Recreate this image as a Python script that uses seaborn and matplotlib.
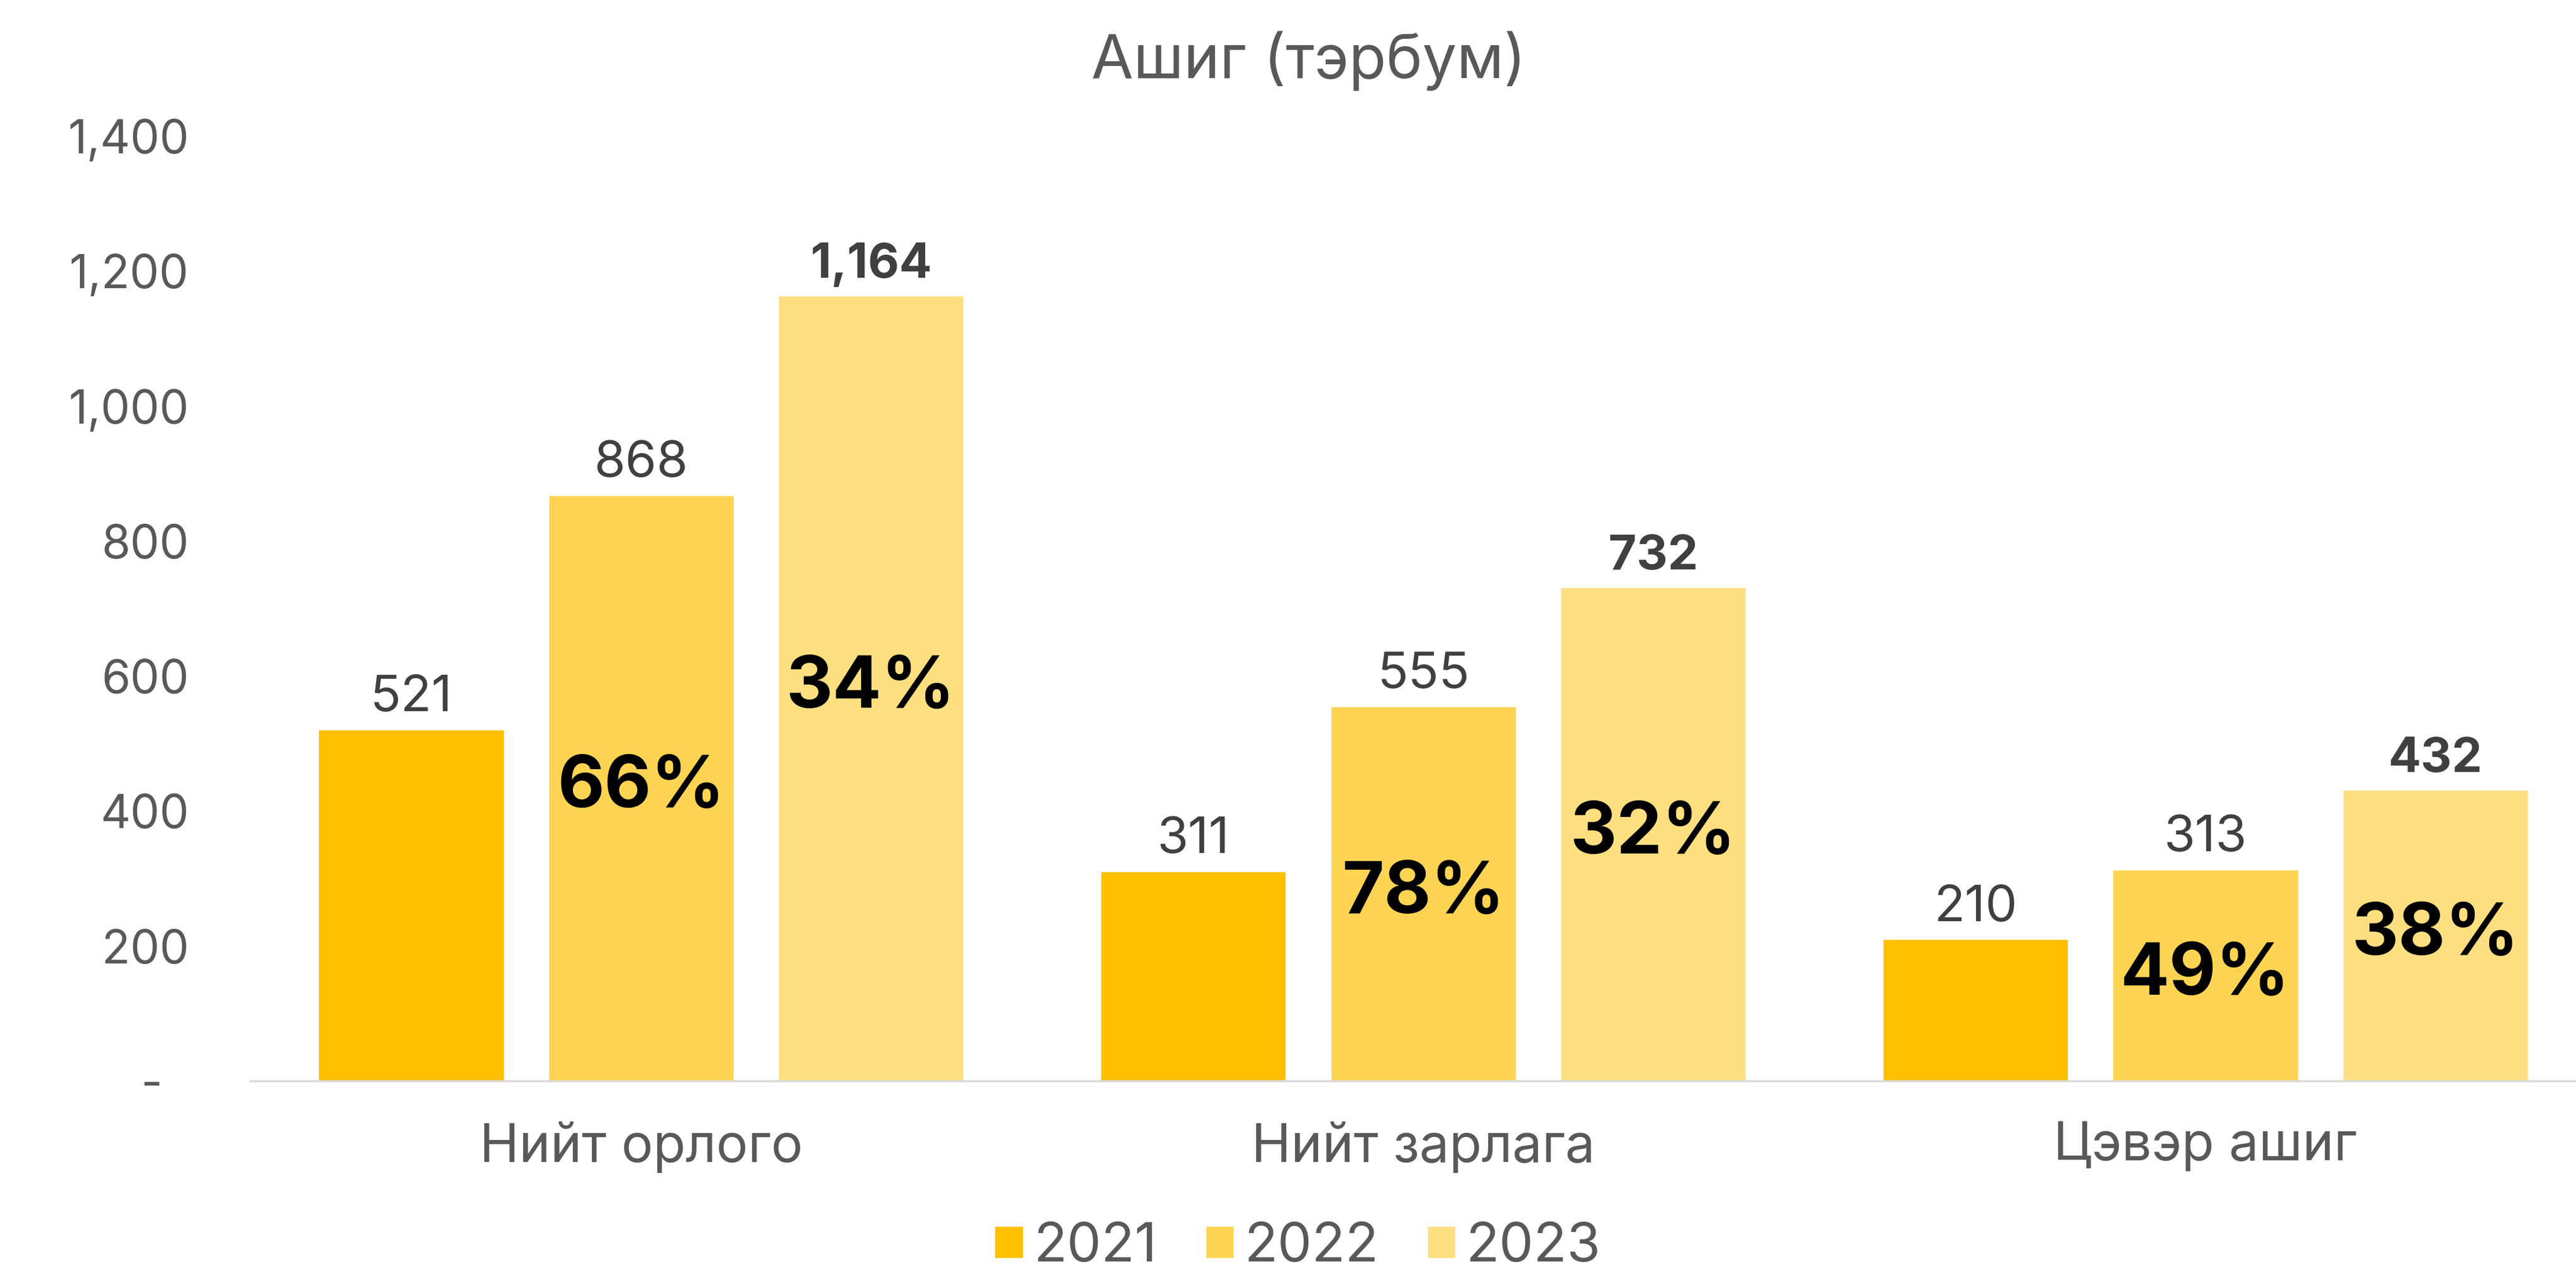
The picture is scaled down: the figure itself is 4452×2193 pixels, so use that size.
import pandas as pd
import matplotlib
matplotlib.use("Agg")
import matplotlib.pyplot as plt
from matplotlib.patches import Patch
import seaborn as sns

# Data
categories = ["Нийт орлого", "Нийт зарлага", "Цэвэр ашиг"]
years = ["2021", "2022", "2023"]
values_2021 = [521, 311, 210]
values_2022 = [868, 555, 313]
values_2023 = [1164, 732, 432]
growth_2022 = ["66%", "78%", "49%"]
growth_2023 = ["34%", "32%", "38%"]
y_ticks = [0, 200, 400, 600, 800, 1000, 1200, 1400]
y_tick_labels = ["-  ", "200", "400", "600", "800", "1,000", "1,200", "1,400"]
colors = ["#FFC000", "#FDD452", "#FEDF80"]

df = pd.DataFrame({
    "category": categories * 3,
    "year": [y for y in years for _ in categories],
    "value": values_2021 + values_2022 + values_2023,
})

sns.set_theme(style="white")
plt.rcParams["font.family"] = ["Inter", "DejaVu Sans"]

fig = plt.figure(figsize=(44.52, 21.93), dpi=100)
ax = fig.add_axes([0.097, 0.148, 0.911, 0.7446])

sns.barplot(data=df, x="category", y="value", hue="year", hue_order=years,
            palette=colors, saturation=1, width=0.882, gap=0.194,
            legend=False, ax=ax)

ax.set_ylim(0, 1400)
ax.set_xlim(-0.5, 2.5)
ax.set_yticks(y_ticks)
ax.set_yticklabels(y_tick_labels)
ax.set_xlabel("")
ax.set_ylabel("")
ax.tick_params(axis="y", length=0, pad=76, labelsize=58, labelcolor="#595959")
ax.tick_params(axis="x", length=0, pad=50, labelsize=66, labelcolor="#595959")

for side in ["top", "right", "left"]:
    ax.spines[side].set_visible(False)
ax.spines["bottom"].set_color("#D9D9D9")
ax.spines["bottom"].set_linewidth(2.5)

# value labels
c21, c22, c23 = ax.containers[:3]
ax.bar_label(c21, labels=[f"{v:,}" for v in values_2021], padding=10,
             fontsize=63, color="#404040")
ax.bar_label(c22, labels=[f"{v:,}" for v in values_2022], padding=10,
             fontsize=63, color="#404040")
ax.bar_label(c23, labels=[f"{v:,}" for v in values_2023], padding=10,
             fontsize=60, color="#404040", fontweight="bold")

# growth labels inside bars
ax.bar_label(c22, labels=growth_2022, label_type="center",
             fontsize=90, color="black", fontweight="bold")
ax.bar_label(c23, labels=growth_2023, label_type="center",
             fontsize=90, color="black", fontweight="bold")

fig.text(0.508, 0.952, "Ашиг (тэрбум)", ha="center", va="center",
         fontsize=76, color="#595959")

handles = [Patch(facecolor=c, edgecolor="none") for c in colors]
fig.legend(handles, years, loc="center", bbox_to_anchor=(0.504, 0.017),
           ncol=3, frameon=False, fontsize=68, labelcolor="#595959",
           handlelength=0.5, handleheight=0.5, handletextpad=0.2,
           columnspacing=0.9, borderpad=0)

fig.savefig("out.png", dpi=100)
